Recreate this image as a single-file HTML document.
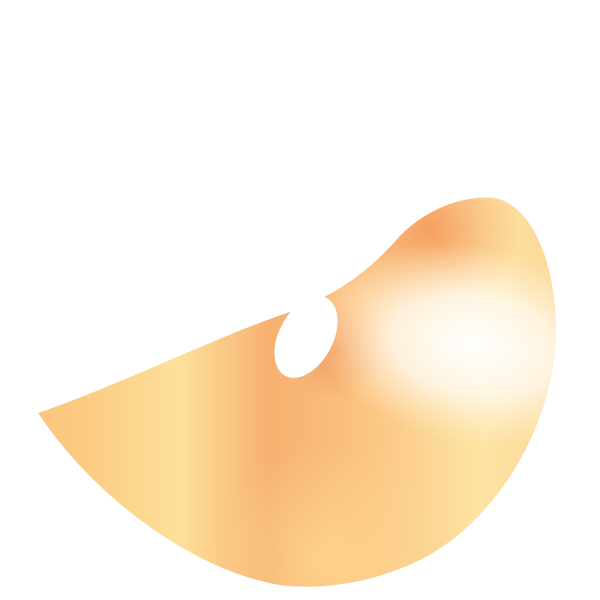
<!DOCTYPE html>
<html>
<head>
<meta charset="utf-8">
<style>
html,body{margin:0;padding:0;background:#fff;width:600px;height:600px;overflow:hidden}
svg{display:block}
</style>
</head>
<body>
<svg width="600" height="600" viewBox="0 0 600 600">
  <defs>
    <linearGradient id="base" x1="0" y1="0" x2="1" y2="0">
      <stop offset="0" stop-color="#fbc27c"/>
      <stop offset="0.12" stop-color="#fcc880"/>
      <stop offset="0.3" stop-color="#fde09a"/>
      <stop offset="0.45" stop-color="#f7b070"/>
      <stop offset="0.6" stop-color="#fbc280"/>
      <stop offset="0.8" stop-color="#fde4a4"/>
      <stop offset="1" stop-color="#fbd090"/>
    </linearGradient>
    <radialGradient id="glow" cx="0" cy="0" r="1" gradientUnits="userSpaceOnUse" gradientTransform="translate(475 345) rotate(10) scale(165 100)">
      <stop offset="0" stop-color="#ffffff" stop-opacity="1"/>
      <stop offset="0.5" stop-color="#fffaf0" stop-opacity="0.8"/>
      <stop offset="1" stop-color="#fff2d0" stop-opacity="0"/>
    </radialGradient>
    <radialGradient id="topfold" cx="430" cy="230" r="90" gradientUnits="userSpaceOnUse">
      <stop offset="0" stop-color="#f49a5c" stop-opacity="0.9"/>
      <stop offset="1" stop-color="#f49a5c" stop-opacity="0"/>
    </radialGradient>
    <radialGradient id="bottom" cx="330" cy="560" r="120" gradientUnits="userSpaceOnUse">
      <stop offset="0" stop-color="#fdd890" stop-opacity="0.8"/>
      <stop offset="1" stop-color="#fdd890" stop-opacity="0"/>
    </radialGradient>
    <radialGradient id="holeShade" cx="335" cy="350" r="50" gradientUnits="userSpaceOnUse">
      <stop offset="0" stop-color="#f08a50" stop-opacity="0.6"/>
      <stop offset="1" stop-color="#f08a50" stop-opacity="0"/>
    </radialGradient>
    <clipPath id="clip">
      <path d="M38,413 C120,385 220,335 290,312 C340,294 372,268 400,236 C430,205 470,195 495,198 C532,206 556,262 556,332 C555,420 500,520 420,560 C370,584 320,590 280,585 C200,572 100,505 38,413 Z"/>
    </clipPath>
  </defs>
  <g clip-path="url(#clip)">
    <rect x="0" y="0" width="600" height="600" fill="url(#base)"/>
    <rect x="0" y="0" width="600" height="600" fill="url(#topfold)"/>
    <rect x="0" y="0" width="600" height="600" fill="url(#bottom)"/>
    <rect x="0" y="0" width="600" height="600" fill="url(#holeShade)"/>
    <rect x="0" y="0" width="600" height="600" fill="url(#glow)"/>
  </g>
  <ellipse cx="306" cy="337" rx="27" ry="44" transform="rotate(28 306 337)" fill="#ffffff"/>
</svg>
</body>
</html>
